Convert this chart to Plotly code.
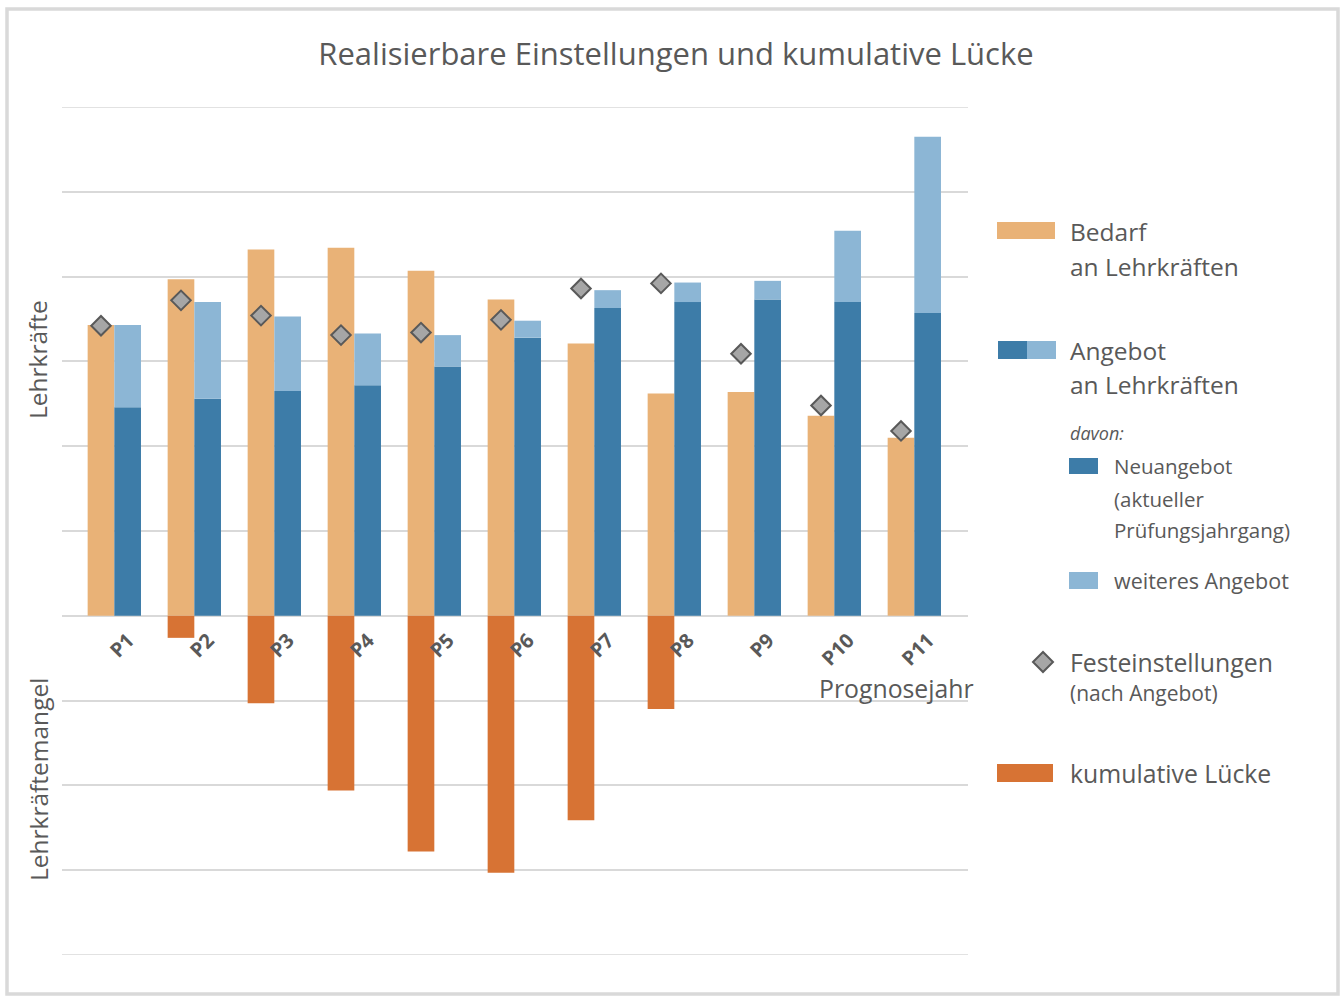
import numpy as np
import plotly.graph_objects as go

# ---------------- data ----------------
categories = ["P1", "P2", "P3", "P4", "P5", "P6", "P7", "P8", "P9", "P10", "P11"]
bedarf = [3.43, 3.97, 4.32, 4.34, 4.07, 3.73, 3.21, 2.62, 2.64, 2.36, 2.10]
neuangebot = [2.46, 2.56, 2.65, 2.72, 2.94, 3.28, 3.63, 3.70, 3.73, 3.70, 3.57]
weiteres_angebot = [0.97, 1.14, 0.88, 0.61, 0.37, 0.20, 0.21, 0.23, 0.22, 0.84, 2.08]
festeinstellungen = [3.42, 3.72, 3.54, 3.31, 3.34, 3.49, 3.86, 3.92, 3.09, 2.48, 2.18]
kumulative_luecke = [0, -0.26, -1.03, -2.06, -2.78, -3.03, -2.41, -1.10, 0, 0, 0]
y_min, y_max = -4, 6

# ---------------- style ----------------
C_BEDARF = "#E9B277"
C_NEU = "#3D7CA8"
C_WEIT = "#8CB6D5"
C_LUECKE = "#D77334"
C_DIA = "#A6A6A6"
C_DIA_LINE = "#595959"
C_TEXT = "#595959"
C_GRID = "#D9D9D9"
FONT = "Open Sans"

W, H = 1344, 998
L, R, T, B = 62, 968, 107, 955  # plot area pixels
BW = 1 / 3  # bar width in category units

def px(x):
    return (x - L) / (R - L)

def py(y):
    return (B - y) / (B - T)

xi = np.arange(len(categories))

fig = go.Figure()
fig.add_trace(go.Bar(x=xi, y=bedarf, width=BW, offset=-BW, marker_color=C_BEDARF,
                     marker_line_width=0, name="Bedarf"))
fig.add_trace(go.Bar(x=xi, y=kumulative_luecke, width=BW, offset=-BW, marker_color=C_LUECKE,
                     marker_line_width=0, name="kumulative Lücke"))
fig.add_trace(go.Bar(x=xi, y=neuangebot, width=BW, offset=0, marker_color=C_NEU,
                     marker_line_width=0, name="Neuangebot"))
fig.add_trace(go.Bar(x=xi, y=weiteres_angebot, base=neuangebot, width=BW, offset=0,
                     marker_color=C_WEIT, marker_line_width=0, name="weiteres Angebot"))
fig.add_trace(go.Scatter(x=xi - BW / 2, y=festeinstellungen, mode="markers",
                         marker=dict(symbol="diamond", size=15, color=C_DIA,
                                     line=dict(color=C_DIA_LINE, width=2)),
                         name="Festeinstellungen"))

fig.update_layout(
    width=W, height=H,
    barmode="overlay",
    showlegend=False,
    plot_bgcolor="white", paper_bgcolor="white",
    margin=dict(l=L, r=W - R, t=T, b=H - B, autoexpand=False),
    font=dict(family=FONT, color=C_TEXT),
    title=dict(text="Realisierbare Einstellungen und kumulative Lücke",
               x=676 / W, xanchor="center", y=1 - 54 / H, yanchor="middle",
               font=dict(size=31, color=C_TEXT, family=FONT)),
)

fig.update_xaxes(
    type="linear", range=[-0.654, 10.671],
    tickvals=list(xi), ticktext=categories, tickangle=-45,
    tickfont=dict(size=20, color=C_TEXT, family=FONT, weight="bold"),
    anchor="free", position=0.4, showgrid=False, zeroline=False, showline=False,
    ticks="", automargin=False, ticklabelshift=14, ticklabelstandoff=8,
)
fig.update_yaxes(
    range=[y_min, y_max], tickvals=list(range(y_min, y_max + 1)), showticklabels=False,
    showgrid=True, gridcolor=C_GRID, gridwidth=1.5, zeroline=True, zerolinecolor=C_GRID,
    zerolinewidth=1.5, automargin=False, ticks="",
)

ann = []
def text(x, y, s, size=24, xanchor="left", angle=0, italic=False):
    ann.append(dict(xref="paper", yref="paper", x=px(x), y=py(y), text=s,
                    showarrow=False, xanchor=xanchor, yanchor="middle", textangle=angle,
                    font=dict(size=size, color=C_TEXT, family=FONT,
                              style="italic" if italic else "normal")))

text(38, 360, "Lehrkräfte", 24.5, "center", -90)
text(38, 780, "Lehrkräftemangel", 24.5, "center", -90)
text(817, 688, "Prognosejahr", 24.8)

# legend texts
text(1068, 231, "Bedarf", 24.5)
text(1068, 266, "an Lehrkräften", 24.5)
text(1068, 350, "Angebot", 24.5)
text(1068, 384, "an Lehrkräften", 24.5)
text(1068, 433, "davon:", 18, italic=True)
text(1112, 466, "Neuangebot", 20.5)
text(1112, 499, "(aktueller", 20.5)
text(1112, 530, "Prüfungsjahrgang)", 20.5)
text(1112, 580, "weiteres Angebot", 21.5)
text(1068, 662, "Festeinstellungen", 24.8)
text(1068, 693, "(nach Angebot)", 21)
text(1068, 773, "kumulative Lücke", 24.8)
fig.update_layout(annotations=ann)

shapes = []
# boundary gridlines (top and bottom of the value axis)
for yv in (y_min, y_max):
    shapes.append(dict(type="line", xref="paper", yref="y", x0=0, x1=1, y0=yv, y1=yv,
                       line=dict(color=C_GRID, width=1.5), layer="below"))

def rect(x0, y0, x1, y1, color):
    shapes.append(dict(type="rect", xref="paper", yref="paper",
                       x0=px(x0), x1=px(x1), y0=py(y1), y1=py(y0),
                       fillcolor=color, line=dict(width=0), layer="above"))

rect(997, 222, 1055, 239, C_BEDARF)
rect(998, 341, 1027, 359, C_NEU)
rect(1027, 341, 1056, 359, C_WEIT)
rect(1069, 458, 1098, 474, C_NEU)
rect(1069, 572, 1098, 589, C_WEIT)
rect(997, 764, 1053, 782, C_LUECKE)
# diamond legend symbol
cx, cy, r = 1043, 662, 10
shapes.append(dict(type="path", xref="paper", yref="paper",
                   path=f"M {px(cx - r)},{py(cy)} L {px(cx)},{py(cy - r)} L {px(cx + r)},{py(cy)} L {px(cx)},{py(cy + r)} Z",
                   fillcolor=C_DIA, line=dict(color=C_DIA_LINE, width=2)))
# outer frame
shapes.append(dict(type="rect", xref="paper", yref="paper",
                   x0=px(7), x1=px(1338), y0=py(994), y1=py(9),
                   line=dict(color=C_GRID, width=3.5), fillcolor="rgba(0,0,0,0)", layer="below"))
fig.update_layout(shapes=shapes)

fig.write_html("out.html", config={"displayModeBar": False},
               post_script="document.body.style.margin='0';")
